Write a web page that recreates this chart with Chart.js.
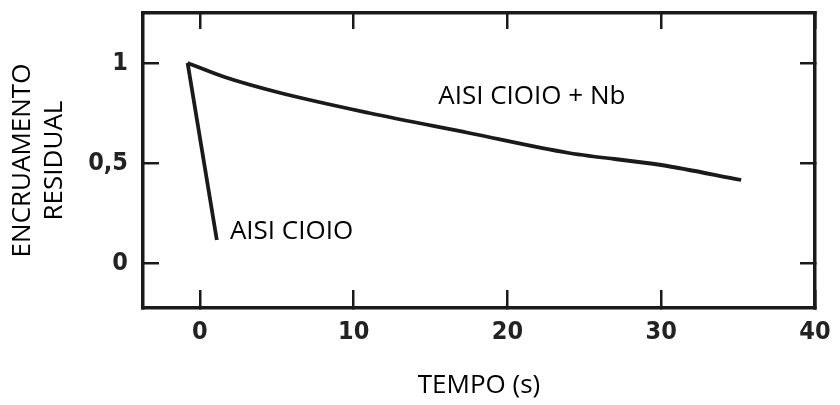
<!DOCTYPE html>
<html>
<head>
<meta charset="utf-8">
<script src="https://cdn.jsdelivr.net/npm/chart.js@4/dist/chart.umd.min.js"></script>
<style>
  html, body { margin: 0; padding: 0; background: #fff; }
  #wrap { width: 840px; height: 405px; }
</style>
</head>
<body>
<div id="wrap"><canvas id="myChart"></canvas></div>
<script>
// values
const nbTime = [-0.8, 1.6, 5, 11, 17.5, 24, 30, 35.2];
const nbValue = [1.0, 0.93, 0.855, 0.75, 0.65, 0.55, 0.49, 0.415];
const plainTime = [-0.8, 1.1];
const plainValue = [1.0, 0.115];
const xTicks = [0, 10, 20, 30, 40];
const yTicks = [0, 0.5, 1];
const yTickLabels = {0: "0", 0.5: "0,5", 1: "1"};

// curve labels, in data units
const curveLabels = [
  { text: "AISI CIOIO + Nb", x: 15.5, y: 0.83 },
  { text: "AISI CIOIO", x: 1.95, y: 0.155 }
];

const ink = "#1a1a1a";
const tickFont = { family: "'DejaVu Sans Condensed', 'DejaVu Sans'", size: 25, weight: "bold" };

const curveText = {
  id: "curveText",
  afterDatasetsDraw(chart) {
    const ctx = chart.ctx;
    const xs = chart.scales.x, ys = chart.scales.y;
    ctx.save();
    ctx.fillStyle = "#000";
    ctx.font = "26px 'Open Sans'";
    ctx.textAlign = "left";
    ctx.textBaseline = "middle";
    curveLabels.forEach(l => {
      ctx.fillText(l.text, xs.getPixelForValue(l.x), ys.getPixelForValue(l.y));
    });
    ctx.restore();
  }
};

const toPts = (xs, ys) => xs.map((x, i) => ({ x: x, y: ys[i] }));

// fixed axis sizes, and no extra room for edge labels
const fixSize = (w, h) => s => {
  if (w !== null) s.width = w;
  if (h !== null) s.height = h;
  s.paddingTop = s.paddingBottom = s.paddingLeft = s.paddingRight = 0;
};

new Chart("myChart", {
  type: "line",
  data: {
    datasets: [
      {
        label: "AISI CIOIO + Nb",
        data: toPts(nbTime, nbValue),
        borderColor: ink,
        borderWidth: 3.8,
        pointRadius: 0,
        cubicInterpolationMode: "monotone",
        fill: false
      },
      {
        label: "AISI CIOIO",
        data: toPts(plainTime, plainValue),
        borderColor: ink,
        borderWidth: 3.8,
        pointRadius: 0,
        fill: false
      }
    ]
  },
  options: {
    responsive: true,
    maintainAspectRatio: false,
    animation: false,
    layout: { padding: { left: 0, right: 25, top: 13, bottom: 0 } },
    plugins: {
      legend: { display: false },
      tooltip: { enabled: false }
    },
    scales: {
      x: {
        type: "linear",
        position: "bottom",
        min: -3.7,
        max: 40,
        afterBuildTicks: s => { s.ticks = xTicks.map(v => ({ value: v })); },
        afterFit: fixSize(null, 97),
        grid: { drawOnChartArea: false, drawTicks: true, tickLength: -18, color: ink, lineWidth: 2.5 },
        border: { display: true, color: ink, width: 3.5 },
        ticks: {
          autoSkip: false,
          maxRotation: 0,
          padding: 27,
          color: "#222",
          font: tickFont
        },
        title: {
          display: true,
          text: "TEMPO (s)",
          color: "#000",
          font: { family: "'Open Sans'", size: 26, lineHeight: 1.2 },
          padding: { top: 0, bottom: 4 }
        }
      },
      x2: {
        type: "linear",
        position: "top",
        min: -3.7,
        max: 40,
        afterBuildTicks: s => { s.ticks = xTicks.map(v => ({ value: v })); },
        afterFit: fixSize(null, 0),
        grid: { drawOnChartArea: false, drawTicks: true, tickLength: -16, color: ink, lineWidth: 2.5 },
        border: { display: true, color: ink, width: 3.5 },
        ticks: { display: false }
      },
      y: {
        type: "linear",
        position: "left",
        min: -0.225,
        max: 1.25,
        afterBuildTicks: s => { s.ticks = yTicks.map(v => ({ value: v })); },
        afterFit: fixSize(143, null),
        grid: { drawOnChartArea: false, drawTicks: true, tickLength: -16, color: ink, lineWidth: 2.5 },
        border: { display: true, color: ink, width: 3.5 },
        ticks: {
          autoSkip: false,
          padding: 31,
          color: "#222",
          font: tickFont,
          callback: v => yTickLabels[v]
        },
        title: {
          display: true,
          text: ["ENCRUAMENTO", "RESIDUAL"],
          color: "#000",
          font: { family: "'Open Sans'", size: 26, lineHeight: 1.25 },
          padding: { top: 6, bottom: 0 }
        }
      },
      y2: {
        type: "linear",
        position: "right",
        min: -0.225,
        max: 1.25,
        afterBuildTicks: s => { s.ticks = yTicks.map(v => ({ value: v })); },
        afterFit: fixSize(0, null),
        grid: { drawOnChartArea: false, drawTicks: true, tickLength: -15, color: ink, lineWidth: 2.5 },
        border: { display: true, color: ink, width: 3.5 },
        ticks: { display: false }
      }
    }
  },
  plugins: [curveText]
});
</script>
</body>
</html>
